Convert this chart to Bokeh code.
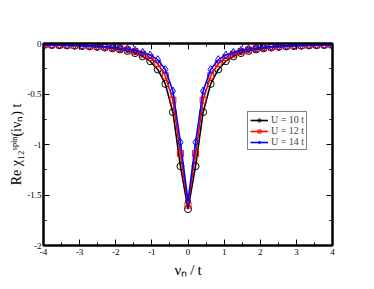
from bokeh.plotting import figure
from bokeh.models import (Range1d, LinearAxis, SingleIntervalTicker, CustomJSTickFormatter,
                          Legend, LegendItem)
from bokeh.embed import file_html
from bokeh.resources import INLINE

# ---- data (positive Matsubara frequencies; curves are symmetric in nu) ----
nu_pos = [0.0, 0.2094, 0.4189, 0.6283, 0.8378, 1.0472, 1.2566, 1.4661, 1.6755, 1.8850,
          2.0944, 2.3038, 2.5133, 2.7227, 2.9322, 3.1416, 3.3510, 3.5605, 3.7699, 3.9794]
chi_U10 = [-1.64, -1.215, -0.68, -0.40, -0.257, -0.175, -0.127, -0.095, -0.074, -0.059,
           -0.048, -0.040, -0.034, -0.029, -0.025, -0.022, -0.019, -0.017, -0.015, -0.014]
chi_U12 = [-1.60, -1.09, -0.56, -0.32, -0.20, -0.14, -0.105, -0.080, -0.063, -0.050,
           -0.041, -0.034, -0.029, -0.025, -0.021, -0.019, -0.016, -0.015, -0.013, -0.012]
chi_U14 = [-1.56, -0.98, -0.47, -0.257, -0.16, -0.115, -0.088, -0.068, -0.054, -0.044,
           -0.036, -0.030, -0.026, -0.022, -0.019, -0.017, -0.015, -0.013, -0.012, -0.011]
series_labels = ["U = 10 t", "U = 12 t", "U = 14 t"]
x_title = "\u03bd\u2099\u2009/\u2009t"
y_title = "Re \u03c7\u2081\u2082\u02e2\u1d56\u2071\u207f(i\u03bd\u2099) t"


def mirror_x(v):
    return [-a for a in reversed(v[1:])] + list(v)


def mirror_y(v):
    return list(reversed(v[1:])) + list(v)


nu = mirror_x(nu_pos)

FONT = "Liberation Serif"

p = figure(width=366, height=281, x_range=Range1d(-4, 4), y_range=Range1d(-2, 0),
           output_backend="svg", toolbar_location=None,
           min_border_left=43, min_border_right=34, min_border_top=43, min_border_bottom=36)
p.xgrid.visible = False
p.ygrid.visible = False
p.outline_line_color = "black"
p.outline_line_width = 2
p.background_fill_color = "white"
p.border_fill_color = "white"

label_fmt = CustomJSTickFormatter(code="return tick.toString();")
blank_fmt = CustomJSTickFormatter(code="return '';")


def style_axis(ax, fmt):
    ax.formatter = fmt
    ax.major_tick_in = 6
    ax.major_tick_out = 0
    ax.minor_tick_in = 3
    ax.minor_tick_out = 0
    ax.axis_line_color = "black"
    ax.axis_line_width = 2
    ax.major_tick_line_color = "black"
    ax.major_tick_line_width = 1
    ax.minor_tick_line_color = "black"
    ax.minor_tick_line_width = 1
    ax.major_label_text_font = FONT
    ax.major_label_text_font_size = "9px"
    ax.major_label_text_color = "black"
    ax.major_label_standoff = 3
    ax.axis_label_text_font = FONT
    ax.axis_label_text_font_style = "normal"
    ax.axis_label_text_color = "black"


p.xaxis.ticker = SingleIntervalTicker(interval=1, num_minor_ticks=2)
p.yaxis.ticker = SingleIntervalTicker(interval=0.5, num_minor_ticks=2)
style_axis(p.xaxis[0], label_fmt)
style_axis(p.yaxis[0], label_fmt)
p.yaxis.major_label_standoff = 2

p.xaxis.axis_label = x_title
p.xaxis.axis_label_text_font_size = "15px"
p.xaxis.axis_label_standoff = 4

p.yaxis.axis_label = y_title
p.yaxis.axis_label_text_font_size = "14px"
p.yaxis.axis_label_standoff = 0

top_ax = LinearAxis(ticker=SingleIntervalTicker(interval=1, num_minor_ticks=2))
right_ax = LinearAxis(ticker=SingleIntervalTicker(interval=0.5, num_minor_ticks=2))
style_axis(top_ax, blank_fmt)
style_axis(right_ax, blank_fmt)
p.add_layout(top_ax, "above")
p.add_layout(right_ax, "right")

styles = [("black", "circle", 7), ("red", "square", 6), ("blue", "diamond", 8)]
items = []
for vals, lab, (col, mk, sz) in zip([chi_U10, chi_U12, chi_U14], series_labels, styles):
    y = mirror_y(vals)
    ln = p.line(nu, y, line_color=col, line_width=1.6)
    sc = p.scatter(nu, y, marker=mk, size=sz, fill_color=None, line_color=col, line_width=1)
    items.append(LegendItem(label=lab, renderers=[ln, sc]))

legend = Legend(items=items, location=(204, 95))
legend.border_line_color = "black"
legend.border_line_width = 1.5
legend.background_fill_color = "white"
legend.background_fill_alpha = 1
legend.label_text_font = FONT
legend.label_text_font_size = "10px"
legend.glyph_width = 18
legend.glyph_height = 8
legend.label_height = 8
legend.spacing = 0
legend.padding = 2
legend.margin = 0
legend.label_standoff = 3
p.add_layout(legend)

open("out.html", "w").write(file_html(p, INLINE))
